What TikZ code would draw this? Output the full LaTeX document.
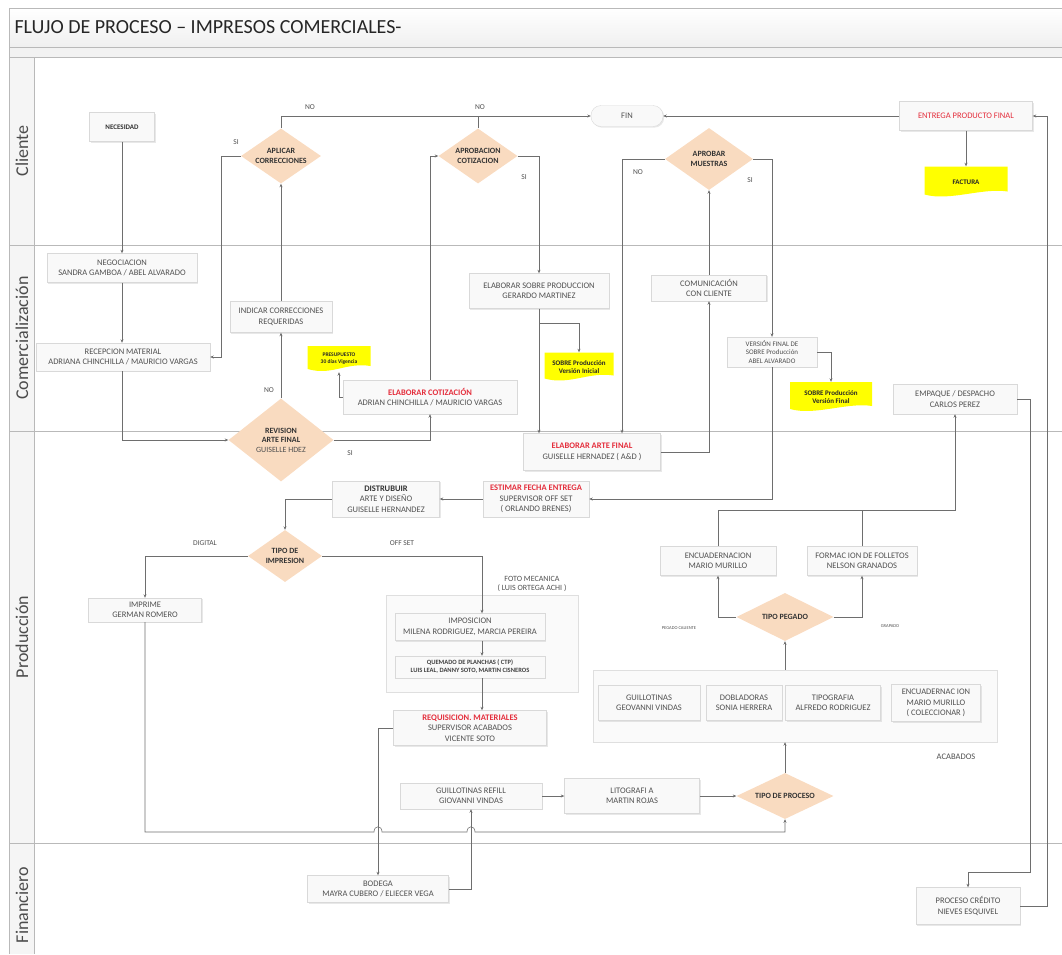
\documentclass[tikz,border=0pt]{standalone}
\usepackage{fontspec}
\setmainfont{Carlito}
\usepackage{xcolor}
\usepackage{tikz}
\usetikzlibrary{shapes.geometric,calc,shadows,arrows.meta}

\definecolor{peach}{RGB}{249,219,192}
\definecolor{rojo}{RGB}{228,46,60}
\definecolor{amarillo}{RGB}{255,255,0}
\definecolor{txt}{RGB}{80,80,80}
\definecolor{linea}{RGB}{110,110,110}

\begin{document}
\begin{tikzpicture}[x=1pt, y=-1pt,
    every node/.style={font=\fontsize{8.5}{10.5}\selectfont, text=txt},
    frame/.style={draw=gray!55, line width=0.7pt},
    box/.style={draw=gray!30, fill=gray!5, align=center, inner sep=2pt,
        drop shadow={opacity=0.18, shadow xshift=1.2pt, shadow yshift=-1.2pt}},
    group/.style={draw=gray!25, fill=gray!4,
        drop shadow={opacity=0.12, shadow xshift=1.2pt, shadow yshift=-1.2pt}},
    wh/.style 2 args={minimum width=#1pt, minimum height=#2pt},
    decision/.style={diamond, fill=peach, inner sep=0pt},
    dtext/.style={font=\bfseries\fontsize{8}{9.5}\selectfont, text=black!80, align=center},
    doc/.style={align=center, inner sep=1pt, fill=white, text=black!85,
        font=\bfseries\fontsize{7}{8.5}\selectfont,
        path picture={\fill[amarillo] (path picture bounding box.north west)
            -- (path picture bounding box.north east)
            -- ([yshift=6pt]path picture bounding box.south east)
            .. controls ([xshift=-25pt,yshift=10pt]path picture bounding box.south east)
            and ([xshift=25pt,yshift=-4pt]path picture bounding box.south west)
            .. ([yshift=3pt]path picture bounding box.south west) -- cycle;}},
    tag/.style={font=\fontsize{7.5}{9}\selectfont, text=txt},
    lane/.style={rotate=90, font=\fontsize{18}{20}\selectfont, text=black!70},
    line/.style={draw=linea, line width=0.6pt},
    arrow/.style={line, -{Stealth[length=3.5pt, width=3pt]}}]

\useasboundingbox (0,0) rectangle (1062,954);

% marco y carriles
\shade[top color=white, bottom color=gray!12] (9,8) rectangle (1062,47);
\fill[gray!10] (9,47) rectangle (1062,57);
\fill[gray!8] (9,57) rectangle (34,954);
\draw[frame] (9,954) -- (9,8) -- (1062,8);
\draw[frame] (9,47) -- (1062,47);
\draw[frame] (9,57) -- (1062,57);
\draw[frame] (34,57) -- (34,954);
\foreach \y in {245,431,843}
    \draw[frame] (9,\y) -- (1062,\y);

\node[anchor=west, font=\fontsize{20}{24}\selectfont, text=black!85] (titulo) at (11,27) {FLUJO DE PROCESO – IMPRESOS COMERCIALES-};
\node[lane] (lcliente) at (22,151) {Cliente};
\node[lane] (lcomer) at (22,338) {Comercialización};
\node[lane] (lprod) at (22,637) {Producción};
\node[lane] (lfin) at (22,905) {Financiero};

% grupos
\node[group, wh={192}{97}] (fotogrp) at (482,643.5) {};
\node[group, wh={404}{72}] (acabgrp) at (795,706) {};

% Cliente
\node[box, wh={65}{29}, font=\bfseries\fontsize{7}{8.5}\selectfont, text=black!80] (necesidad) at (122,127) {NECESIDAD};
\node[decision, wh={80}{55}, label={[dtext]center:{APLICAR\\CORRECCIONES}}] (aplicar) at (281,156) {};
\node[decision, wh={79}{55}, label={[dtext]center:{APROBACION\\COTIZACION}}] (aprob) at (478,156) {};
\node[box, rounded corners=10pt, wh={72}{21}] (fin) at (627,116) {FIN};
\node[decision, wh={88}{62}, label={[dtext]center:{APROBAR\\MUESTRAS}}] (muestras) at (709,159) {};
\node[box, wh={133}{29}, text=rojo] (entrega) at (966,116) {ENTREGA PRODUCTO FINAL};
\node[doc, wh={83}{31}] (factura) at (966,182) {FACTURA};

% Comercializacion
\node[box, wh={150}{29}] (negoc) at (122,268) {NEGOCIACION\\SANDRA GAMBOA / ABEL ALVARADO};
\node[box, wh={174}{28}] (recep) at (123,357) {RECEPCION MATERIAL\\ADRIANA CHINCHILLA / MAURICIO VARGAS};
\node[box, wh={102}{31}] (indicar) at (281,317) {INDICAR CORRECCIONES\\REQUERIDAS};
\node[doc, wh={63}{26}, font=\bfseries\fontsize{5.5}{7}\selectfont] (presup) at (339,359) {PRESUPUESTO\\30 días Vigencia};
\node[box, wh={174}{34}] (cotiz) at (430,397) {\textcolor{rojo}{\textbf{ELABORAR COTIZACIÓN}}\\ADRIAN CHINCHILLA / MAURICIO VARGAS};
\node[box, wh={140}{35}] (sobre) at (539,291) {ELABORAR SOBRE PRODUCCION\\GERARDO MARTINEZ};
\node[doc, wh={69}{29}] (vinicial) at (579,367) {SOBRE Producción\\Versión Inicial};
\node[box, wh={115}{26}] (comun) at (709,288) {COMUNICACIÓN\\CON CLIENTE};
\node[box, wh={90}{30}, font=\fontsize{7}{8.5}\selectfont] (vfinal) at (772,352) {VERSIÓN FINAL DE\\SOBRE Producción\\ABEL ALVARADO};
\node[doc, wh={82}{30}] (vfin) at (831,397) {SOBRE Producción\\Versión Final};
\node[box, wh={124}{30}] (empaque) at (955,399) {EMPAQUE / DESPACHO\\CARLOS PEREZ};

% Produccion
\node[decision, wh={105}{83}, label={[dtext]center:{REVISION\\ARTE FINAL\\{\mdseries\color{txt}GUISELLE HDEZ}}}] (revision) at (281,440) {};
\node[box, wh={137}{37}] (arte) at (592,452) {\textcolor{rojo}{\textbf{ELABORAR ARTE FINAL}}\\GUISELLE HERNADEZ ( A\&D )};
\node[box, wh={106}{36}] (estimar) at (536,499) {\textcolor{rojo}{\textbf{ESTIMAR FECHA ENTREGA}}\\SUPERVISOR OFF SET\\( ORLANDO BRENES)};
\node[box, wh={107}{36}] (distr) at (386,499) {\textcolor{black!80}{\textbf{DISTRUBUIR}}\\ARTE Y DISEÑO\\GUISELLE HERNANDEZ};
\node[decision, wh={74}{52}, label={[dtext]center:{TIPO DE\\IMPRESION}}] (impresion) at (285,556) {};
\node[box, wh={113}{24}] (imprime) at (145,610) {IMPRIME\\GERMAN ROMERO};
\node[align=center, font=\fontsize{8}{9.5}\selectfont] (fotolbl) at (532,584) {FOTO MECANICA\\( LUIS ORTEGA ACHI )};
\node[box, wh={150}{27}] (impos) at (470,627) {IMPOSICION\\MILENA RODRIGUEZ, MARCIA PEREIRA};
\node[box, wh={150}{22}, font=\bfseries\fontsize{6.5}{8}\selectfont, text=black!75] (quemado) at (470,667) {QUEMADO DE PLANCHAS ( CTP)\\LUIS LEAL, DANNY SOTO, MARTIN CISNEROS};
\node[box, wh={153}{35}] (requis) at (470,728) {\textcolor{rojo}{\textbf{REQUISICION. MATERIALES}}\\SUPERVISOR ACABADOS\\VICENTE SOTO};
\node[box, wh={142}{26}] (guilloref) at (471,796) {GUILLOTINAS REFILL\\GIOVANNI VINDAS};
\node[box, wh={135}{35}] (lito) at (632,796) {LITOGRAFI A\\MARTIN ROJAS};
\node[decision, wh={97}{46}, label={[dtext]center:{TIPO DE PROCESO}}] (proceso) at (785,796) {};
\node[box, wh={102}{35}] (guillo) at (649,703) {GUILLOTINAS\\GEOVANNI VINDAS};
\node[box, wh={76}{35}] (dobla) at (744,703) {DOBLADORAS\\SONIA HERRERA};
\node[box, wh={95}{35}] (tipog) at (833,703) {TIPOGRAFIA\\ALFREDO RODRIGUEZ};
\node[box, wh={89}{37}] (encuad2) at (936,703) {ENCUADERNAC ION\\MARIO MURILLO\\( COLECCIONAR )};
\node (acablbl) at (956,757) {ACABADOS};
\node[decision, wh={97}{48}, label={[dtext]center:{TIPO PEGADO}}] (pegado) at (785,617) {};
\node[box, wh={116}{29}] (encuad) at (718,561) {ENCUADERNACION\\MARIO MURILLO};
\node[box, wh={110}{29}] (formac) at (862,561) {FORMAC ION DE FOLLETOS\\NELSON GRANADOS};

% Financiero
\node[box, wh={141}{27}] (bodega) at (378,889) {BODEGA\\MAYRA CUBERO / ELIECER VEGA};
\node[box, wh={104}{37}] (credito) at (968,906) {PROCESO CRÉDITO\\NIEVES ESQUIVEL};

% etiquetas de salida
\node[tag] (no1) at (310,107) {NO};
\node[tag] (no2) at (480,107) {NO};
\node[tag] (si1) at (236,142) {SI};
\node[tag] (si2) at (524,177) {SI};
\node[tag] (no3) at (638,172) {NO};
\node[tag] (si3) at (750,180) {SI};
\node[tag] (no4) at (269,390) {NO};
\node[tag] (si4) at (350,453) {SI};
\node[tag] (digital) at (205,543) {DIGITAL};
\node[tag] (offset) at (402,543) {OFF SET};
\node[tag, font=\fontsize{4.5}{5}\selectfont] (caliente) at (679,628) {PEGADO CALIENTE};
\node[tag, font=\fontsize{4.5}{5}\selectfont] (grapado) at (890,626) {GRAPADO};

% puntos de paso
\coordinate (bot) at (0,832);
\coordinate (cr) at (1030,872);
\coordinate (j1) at (bodega.north |- bot);
\coordinate (j2) at (guilloref.south |- bot);

% conectores
\draw[arrow] (necesidad.south) -- (negoc.north);
\draw[arrow] (negoc.south) -- (negoc.south |- recep.north);
\draw[arrow] (recep.south -| negoc.south) |- (revision.west);
\draw[arrow] (revision.north) -- (indicar.south);
\draw[arrow] (indicar.north) -- (aplicar.south);
\draw[arrow] (aplicar.west) -- ++(-20,0) |- (recep.east);
\draw[arrow] (aplicar.north) |- (fin.west);
\draw[line] (aprob.north) -- (aprob.north |- fin.west);
\draw[arrow] (revision.east) -| (cotiz.south);
\draw[arrow] (cotiz.north) |- (aprob.west);
\draw[arrow] (cotiz.west) -| (presup.south);
\draw[arrow] (aprob.east) -| (sobre.north);
\draw[arrow] (sobre.south) -- (sobre.south |- arte.north);
\draw[arrow] ($(sobre.south)+(0,15)$) -| (vinicial.north);
\draw[arrow] (muestras.west) -| ([xshift=30pt]arte.north);
\draw[arrow] (arte.east) -| (comun.south);
\draw[arrow] (comun.north) -- (muestras.south);
\draw[arrow] (muestras.east) -| (vfinal.north);
\draw[arrow] (vfinal.south) |- (estimar.east);
\draw[arrow] (vfinal.east) -| (vfin.north);
\draw[arrow] (estimar.west) -- (distr.east);
\draw[arrow] (distr.west) -| (impresion.north);
\draw[arrow] (impresion.west) -| (imprime.north);
\draw[arrow] (impresion.east) -| ([xshift=12pt]impos.north);
\draw[arrow] ([xshift=12pt]impos.south) -- ([xshift=12pt]quemado.north);
\draw[arrow] ([xshift=12pt]quemado.south) -- ([xshift=12pt]requis.north);
\draw[arrow] (requis.west) -| (bodega.north);
\draw[arrow] (bodega.east) -| (guilloref.south);
\draw[arrow] (guilloref.east) -- (lito.west);
\draw[arrow] (lito.east) -- (proceso.west);
\draw[arrow] (proceso.north) -- (proceso.north |- acabgrp.south);
\draw[arrow] (proceso.north |- acabgrp.north) -- (pegado.south);
\draw[arrow] (pegado.west) -| (encuad.south);
\draw[arrow] (pegado.east) -| (formac.south);
\draw[arrow] (encuad.north) -- ++(0,-36) -| (empaque.south);
\draw[line] (formac.north) -- ++(0,-36);
\draw[arrow] (empaque.east) -| (cr) -| (credito.north);
\draw[arrow] (credito.east) -- ++(27,0) |- (entrega.east);
\draw[arrow] (entrega.west) -- (fin.east);
\draw[arrow] (entrega.south) -- (factura.north);
% linea inferior con saltos
\draw[arrow] (imprime.south) -- (imprime.south |- bot) -- ([xshift=-4pt]j1)
    .. controls +(0,-7) and +(0,-7) .. ([xshift=4pt]j1) -- ([xshift=-4pt]j2)
    .. controls +(0,-7) and +(0,-7) .. ([xshift=4pt]j2) -| (proceso.south);

\end{tikzpicture}
\end{document}
